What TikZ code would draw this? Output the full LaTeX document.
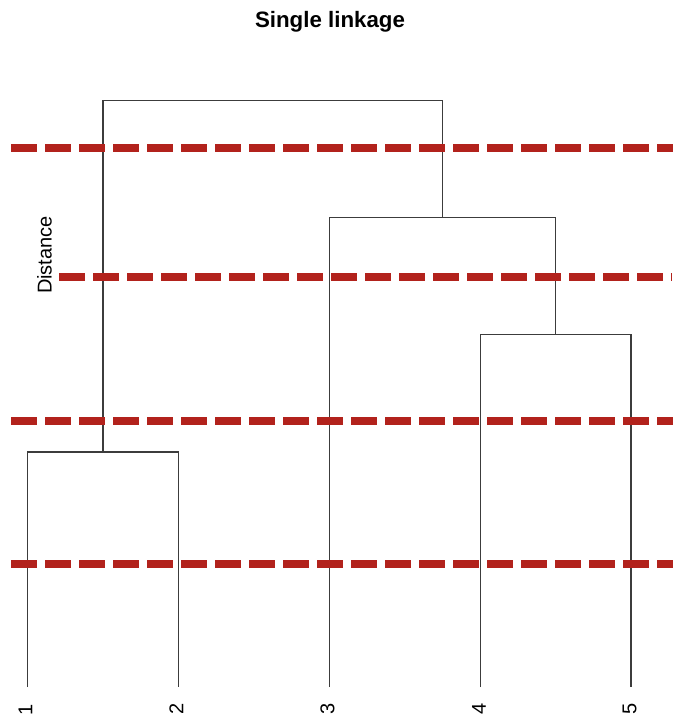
\documentclass[tikz,border=0pt]{standalone}
\usepackage{fontspec}
\setmainfont{Liberation Sans}
\usetikzlibrary{calc,positioning}
\definecolor{cutred}{RGB}{178,34,28}
\definecolor{treegray}{RGB}{60,60,60}

\begin{document}
\begin{tikzpicture}[x=1pt,y=-1pt,
 branch/.style={draw=treegray,line width=1.4pt},
 cutline/.style={draw=cutred,line width=8.3pt,dash pattern=on 25.5pt off 8.5pt},
 leaflab/.style={rotate=90,inner sep=0pt,font=\fontsize{20}{24}\selectfont}]

 \useasboundingbox (0,0) rectangle (684,726);

% \draw[help lines] (0,0) grid[step=50] (684,726);

 \node (title) at (330,22) {\fontsize{22.3}{26}\selectfont\bfseries Single linkage};
 \node (ylab) [leaflab] at (44.5,255) {Distance};

  % leaves
  \coordinate(L1) at (27.5,687);
  \coordinate(L2) at (178.3,687);
  \coordinate(L3) at (329.3,687);
  \coordinate(L4) at (480.7,687);
  \coordinate(L5) at (631,687);

  % merge heights
  \coordinate(M12) at (103,452);
  \coordinate(M45) at (555.7,334.7);
  \coordinate(M345) at (442.7,217.3);
  \coordinate(Mtop) at (272,100.5);

  \draw[branch] (L1) |- (M12) -| (L2);
  \draw[branch] (L4) |- (M45) -| (L5);
  \draw[branch] (L3) |- (M345) -| (M45);
  \draw[branch] (M12) |- (Mtop) -| (M345);

  \node (n1) [leaflab] at (25.5,710) {1};
  \node (n2) [leaflab] at (176.5,709) {2};
  \node (n3) [leaflab] at (327.5,709) {3};
  \node (n4) [leaflab] at (479,709) {4};
  \node (n5) [leaflab] at (629.5,709) {5};

  % cut levels
  \coordinate(c1a) at (11,148.3);  \coordinate(c1b) at (673,148.3);
  \coordinate(c2a) at (59,277.2);  \coordinate(c2b) at (672,277.2);
  \coordinate(c3a) at (11,420.7);  \coordinate(c3b) at (673,420.7);
  \coordinate(c4a) at (11,564.3);  \coordinate(c4b) at (673,564.3);

  \draw[cutline] (c1a)--(c1b);
  \draw[cutline] (c2a)--(c2b);
  \draw[cutline] (c3a)--(c3b);
  \draw[cutline] (c4a)--(c4b);

\end{tikzpicture}
\end{document}
